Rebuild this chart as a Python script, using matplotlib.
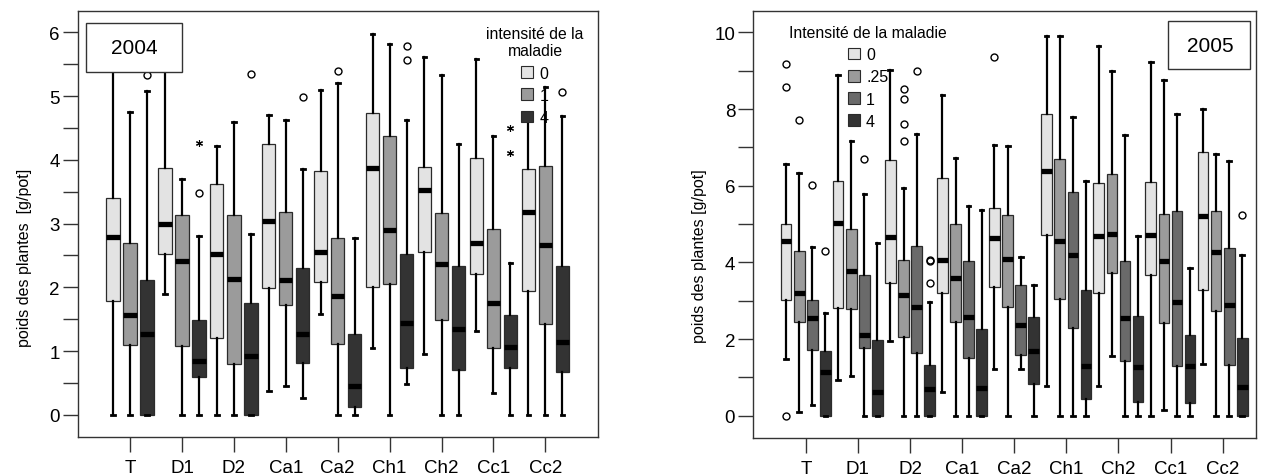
import numpy as np
import matplotlib
matplotlib.use("Agg")
import matplotlib.pyplot as plt
from matplotlib.patches import Patch, Rectangle

plt.rcParams["font.family"] = ["Liberation Sans", "DejaVu Sans"]

groups = ["T", "D1", "D2", "Ca1", "Ca2", "Ch1", "Ch2", "Cc1", "Cc2"]

# ---- 2004: disease intensity 0 / 1 / 4 (rows = groups, cols = levels)
levels_04 = ["0", "1", "4"]
lo_04 = [[0, 0, 0], [1.89, 0, 0], [0, 0, 0], [0.38, 0.46, 0.27], [1.58, 0, 0],
         [1.05, 0, 0.49], [0.95, 0, 0], [1.31, 0.34, 0], [0, 0, 0]]
q1_04 = [[1.78, 1.09, 0], [2.52, 1.08, 0.60], [1.21, 0.80, 0], [1.99, 1.73, 0.81], [2.09, 1.11, 0.13],
         [2.00, 2.06, 0.74], [2.55, 1.49, 0.71], [2.21, 1.05, 0.74], [1.94, 1.43, 0.67]]
med_04 = [[2.79, 1.57, 1.27], [2.99, 2.41, 0.84], [2.52, 2.13, 0.92], [3.04, 2.12, 1.27], [2.55, 1.87, 0.46],
          [3.87, 2.90, 1.44], [3.53, 2.37, 1.34], [2.69, 1.75, 1.07], [3.18, 2.67, 1.14]]
q3_04 = [[3.40, 2.69, 2.11], [3.87, 3.14, 1.48], [3.62, 3.14, 1.76], [4.25, 3.18, 2.30], [3.82, 2.77, 1.27],
         [4.73, 4.38, 2.52], [3.88, 3.16, 2.33], [4.03, 2.92, 1.57], [3.85, 3.91, 2.34]]
hi_04 = [[5.95, 4.75, 5.08], [5.95, 3.70, 2.80], [4.22, 4.60, 2.83], [4.71, 4.62, 3.86], [5.09, 5.20, 2.77],
         [5.98, 5.82, 4.63], [5.62, 5.33, 4.25], [5.58, 4.38, 2.38], [4.67, 5.15, 4.68]]
# outliers: (group, level, value)
circ_04 = [(0, 2, 5.33), (1, 2, 3.48), (2, 2, 5.34), (3, 2, 4.99), (4, 1, 5.39),
           (5, 2, 5.79), (5, 2, 5.56), (8, 2, 5.06)]
star_04 = [(1, 2, 4.27), (7, 2, 4.50), (7, 2, 4.11)]

# ---- 2005: disease intensity 0 / .25 / 1 / 4
levels_05 = ["0", ".25", "1", "4"]
lo_05 = [[1.48, 0.09, 0.29, 0], [0.92, 1.04, 0, 0], [1.94, 0, 0, 0], [0.61, 0, 0, 0], [1.22, 0, 1.22, 0],
         [0.78, 0, 0, 0], [0.78, 1.57, 0, 0], [0, 0.16, 0, 0], [1.35, 0, 0, 0]]
q1_05 = [[3.02, 2.45, 1.71, 0], [2.80, 2.78, 1.76, 0], [3.45, 2.06, 1.63, 0], [3.21, 2.45, 1.51, 0],
         [3.37, 2.84, 1.59, 0.84], [4.71, 3.04, 2.30, 0.43], [3.19, 3.72, 1.42, 0.35],
         [3.66, 2.43, 1.29, 0.33], [3.27, 2.72, 1.33, 0]]
med_05 = [[4.57, 3.19, 2.56, 1.15], [5.04, 3.78, 2.11, 0.63], [4.66, 3.16, 2.83, 0.70], [4.06, 3.60, 2.57, 0.73],
          [4.63, 4.10, 2.37, 1.70], [6.39, 4.56, 4.19, 1.30], [4.70, 4.75, 2.56, 1.28],
          [4.71, 4.03, 2.97, 1.29], [5.22, 4.27, 2.89, 0.76]]
q3_05 = [[4.99, 4.31, 3.02, 1.68], [6.13, 4.87, 3.68, 1.98], [6.68, 4.07, 4.43, 1.32], [6.19, 4.99, 4.03, 2.26],
         [5.43, 5.23, 3.42, 2.58], [7.87, 6.71, 5.83, 3.27], [6.06, 6.30, 4.03, 2.59],
         [6.11, 5.27, 5.34, 2.10], [6.87, 5.33, 4.37, 2.02]]
hi_05 = [[6.56, 6.32, 4.40, 2.67], [8.89, 7.16, 5.78, 4.50], [9.02, 5.93, 7.36, 2.98], [8.37, 6.73, 5.46, 5.36],
         [7.06, 7.04, 4.15, 3.42], [9.91, 9.91, 7.80, 6.13], [9.65, 9.00, 7.32, 4.70],
         [9.23, 8.77, 7.88, 3.86], [8.00, 6.82, 6.65, 4.20]]
circ_05 = [(0, 0, 9.17), (0, 0, 8.57), (0, 0, 0.0), (0, 1, 7.72), (0, 2, 6.03), (0, 3, 4.29),
           (1, 2, 6.70), (2, 1, 8.52), (2, 1, 8.26), (2, 1, 7.61), (2, 1, 7.17), (2, 2, 9.00),
           (2, 3, 4.06), (2, 3, 4.03), (2, 3, 3.46), (4, 0, 9.36), (8, 3, 5.23)]
star_05 = []


def panel(ax, lo, q1, med, q3, hi, circ, star, colors, offsets, width):
    x = np.arange(1, len(groups) + 1)
    for j, c in enumerate(colors):
        stats = []
        for g in range(len(groups)):
            stats.append(dict(whislo=lo[g][j], q1=q1[g][j], med=med[g][j], q3=q3[g][j],
                              whishi=hi[g][j], fliers=[v for gg, jj, v in circ if gg == g and jj == j]))
        ax.bxp(stats, positions=x + offsets[j], widths=width, patch_artist=True,
               manage_ticks=False, capwidths=0.07,
               boxprops=dict(facecolor=c, edgecolor="#2b2b2b", linewidth=0.9),
               medianprops=dict(color="black", linewidth=3.8, solid_capstyle="butt"),
               whiskerprops=dict(color="black", linewidth=1.6),
               capprops=dict(color="black", linewidth=2.0),
               flierprops=dict(marker="o", markerfacecolor="none", markeredgecolor="black",
                               markersize=5, markeredgewidth=1.0))
    for g, j, v in star:
        ax.plot(x[g] + offsets[j], v, marker=(6, 2, 0), color="black", ms=5, mew=0.8, ls="none")
    ax.set_xticks(x)
    ax.set_xticklabels(groups)
    ax.tick_params(axis="both", which="both", direction="out", length=11, width=1.0,
                   color="#333333", labelsize=13.5)
    ax.tick_params(axis="x", pad=5)
    ax.tick_params(axis="y", pad=2)
    for s in ax.spines.values():
        s.set_linewidth(1.0)
        s.set_color("#333333")


fig = plt.figure(figsize=(12.63, 4.77), dpi=100)
W, H = 1263, 477

ax1 = fig.add_axes([77.7 / W, 1 - 437.5 / H, (598.3 - 77.7) / W, (437.5 - 12.3) / H])
cols04 = ["#e3e3e3", "#9b9b9b", "#333333"]
panel(ax1, lo_04, q1_04, med_04, q3_04, hi_04, circ_04, star_04, cols04,
      [-0.328, 0.0, 0.328], 0.256)
ax1.set_xlim(-0.008, 10.02)
ax1.set_ylim(-0.34, 6.33)
ax1.set_yticks(np.arange(0, 7, 1))
ax1.set_yticks(np.arange(0.5, 6, 1), minor=True)
ax1.set_ylabel("poids des plantes  [g/pot]", fontsize=11.5)
ax1.yaxis.set_label_coords(-0.088, 0.423)
ax1.add_artist(Rectangle((86 / W, 1 - 72.7 / H), 96.3 / W, 48.4 / H, transform=fig.transFigure,
                         facecolor="white", edgecolor="#333333", lw=1.0, zorder=10))
ax1.text(134 / W, 1 - 49 / H, "2004", transform=fig.transFigure, ha="center", va="center",
         fontsize=15, zorder=11)
leg1 = ax1.legend([Patch(facecolor=c, edgecolor="#2b2b2b", lw=0.8) for c in cols04], levels_04,
                  title="intensité de la\nmaladie", frameon=False, fontsize=11.5, title_fontsize=11.3,
                  handlelength=0.75, handleheight=0.75, handletextpad=0.4, labelspacing=0.45,
                  borderpad=0, loc="upper center", bbox_to_anchor=(535 / W, 1 - 19 / H),
                  bbox_transform=fig.transFigure)
leg1.get_title().set_multialignment("center")
leg1.set_zorder(12)

ax2 = fig.add_axes([753.3 / W, 1 - 439 / H, (1256 - 753.3) / W, (439 - 12.3) / H])
cols05 = ["#e3e3e3", "#9b9b9b", "#6a6a6a", "#333333"]
panel(ax2, lo_05, q1_05, med_05, q3_05, hi_05, circ_05, star_05, cols05,
      [-0.38, -0.125, 0.125, 0.375], 0.205)
ax2.set_xlim(-0.008, 9.64)
ax2.set_ylim(-0.58, 10.55)
ax2.set_yticks(np.arange(0, 11, 2))
ax2.set_yticks(np.arange(1, 10, 2), minor=True)
ax2.set_ylabel("poids des plantes [g/pot]", fontsize=11.5)
ax2.yaxis.set_label_coords(-0.092, 0.429)
ax2.add_artist(Rectangle((1168.3 / W, 1 - 70 / H), 81.7 / W, 47.7 / H, transform=fig.transFigure,
                         facecolor="white", edgecolor="#333333", lw=1.0, zorder=10))
ax2.text(1210 / W, 1 - 46 / H, "2005", transform=fig.transFigure, ha="center", va="center",
         fontsize=15, zorder=11)
leg2 = ax2.legend([Patch(facecolor=c, edgecolor="#2b2b2b", lw=0.8) for c in cols05], levels_05,
                  title="Intensité de la maladie", frameon=False, fontsize=11.5, title_fontsize=11.3,
                  handlelength=0.75, handleheight=0.75, handletextpad=0.4, labelspacing=0.45,
                  borderpad=0, loc="upper center", bbox_to_anchor=(868 / W, 1 - 18 / H),
                  bbox_transform=fig.transFigure)
leg2.set_zorder(12)

fig.savefig("out.png", dpi=100)
